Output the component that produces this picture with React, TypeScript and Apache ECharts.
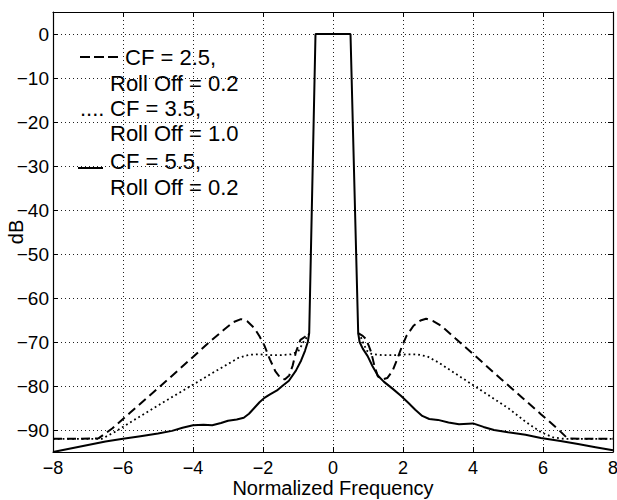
import React, { useEffect, useRef } from "react";
import * as echarts from "echarts";

// CF = 2.5, Roll Off = 0.2 (dashed)
const dashedLeft: number[][] = [
  [-8, -92], [-7.2, -92], [-6.7, -91.9], [-6.3, -89.6], [-5.8, -86.1], [-5.3, -82.6],
  [-4.7, -78.4], [-4.0, -73.4], [-3.5, -69.8], [-3.1, -67.1], [-2.85, -65.5], [-2.63, -64.8],
  [-2.45, -65.3], [-2.25, -66.8], [-2.1, -68.7], [-1.96, -70.8], [-1.8, -74.0], [-1.65, -76.6],
  [-1.5, -78.2], [-1.38, -78.5], [-1.25, -77.6], [-1.15, -75.3], [-1.06, -72.3], [-0.93, -69.5],
  [-0.8, -68.8], [-0.68, -68],
];
const dashedRight: number[][] = [
  [0.72, -68], [0.85, -68.6], [0.94, -69.3], [1.02, -70.8], [1.09, -72.3], [1.18, -75.3],
  [1.28, -77.8], [1.42, -78.5], [1.55, -78.2], [1.7, -76.6], [1.85, -73.6], [1.96, -71.2],
  [2.1, -68.6], [2.3, -66.3], [2.5, -65.1], [2.66, -64.7], [2.85, -65.2], [3.09, -66.3],
  [3.5, -69.2], [4.04, -73.0], [4.8, -78.4], [5.4, -82.6], [5.94, -86.4], [6.4, -89.6],
  [6.7, -91.9], [7.2, -92], [8, -92],
];

// CF = 3.5, Roll Off = 1.0 (dotted)
const dottedLeft: number[][] = [
  [-8, -92], [-6.6, -92], [-6.2, -90.3], [-5.7, -87.8], [-5.2, -85.4], [-4.7, -83],
  [-4.3, -81.1], [-4, -79.7], [-3.5, -77.3], [-3.0, -75], [-2.7, -73.6], [-2.4, -72.9],
  [-2.1, -72.8], [-1.8, -73], [-1.5, -73], [-1.2, -72.8], [-1.0, -72.2], [-0.9, -70.8],
  [-0.82, -69.6], [-0.75, -69], [-0.68, -68],
];
const dottedRight: number[][] = [
  [0.72, -68], [0.8, -69], [0.88, -70.5], [0.97, -72], [1.1, -72.7], [1.4, -73],
  [1.8, -73], [2.1, -72.8], [2.4, -72.8], [2.7, -73.3], [3.0, -74.6], [3.5, -77.2],
  [4.0, -79.8], [4.5, -82.4], [5.0, -85], [5.5, -88.1], [5.94, -90.5], [6.3, -91.7],
  [6.6, -92], [8, -92],
];

// CF = 5.5, Roll Off = 0.2 (solid)
const solid: number[][] = [
  [-8, -95], [-7.5, -94.2], [-7, -93.4], [-6.5, -92.6], [-6, -92], [-5.5, -91.4],
  [-5, -90.8], [-4.6, -90.2], [-4.3, -89.5], [-4, -88.9], [-3.7, -88.8], [-3.45, -88.9],
  [-3.2, -88.4], [-3.0, -87.9], [-2.75, -87.6], [-2.55, -87.2], [-2.4, -86.3], [-2.25, -85],
  [-2.1, -83.7], [-1.96, -82.7], [-1.8, -81.9], [-1.6, -81], [-1.45, -80], [-1.26, -78.8],
  [-1.06, -76.5], [-0.91, -74.2], [-0.8, -72], [-0.72, -70], [-0.68, -68], [-0.5, 0],
  [0.5, 0], [0.72, -68], [0.76, -70], [0.85, -71.5], [0.99, -73.2], [1.13, -75.5],
  [1.28, -77.6], [1.45, -79], [1.7, -80.6], [1.94, -82.2], [2.15, -83.8], [2.35, -85.4],
  [2.55, -86.8], [2.75, -87.5], [3.0, -87.7], [3.3, -88.3], [3.6, -88.7], [4.0, -88.5],
  [4.3, -89.3], [4.6, -90], [5.0, -90.5], [5.5, -91.1], [5.94, -91.8], [6.5, -92.5],
  [7, -93.2], [7.5, -93.9], [8, -94.6],
];

const legendLines = [
  ["CF = 2.5,", "Roll Off = 0.2"],
  ["CF = 3.5,", "Roll Off = 1.0"],
  ["CF = 5.5,", "Roll Off = 0.2"],
];

const FONT = "'Liberation Sans', Arial, Helvetica, sans-serif";
const fmt = (v: number) => (v < 0 ? "\u2212" + Math.abs(v) : String(v));

export default function App() {
  const ref = useRef<HTMLDivElement>(null);
  useEffect(() => {
    const chart = echarts.init(ref.current!, null, { renderer: "svg" });
    const axisLine = { show: true, onZero: false, lineStyle: { color: "#000", width: 1.2 } };
    const axisTick = { show: true, inside: true, length: 5, lineStyle: { color: "#000", width: 1 } };
    const splitLine = { show: true, lineStyle: { color: "#222", width: 1, type: [1, 3] as any } };
    const lbl = { color: "#000", fontSize: 18, fontFamily: FONT, lineHeight: 18 };
    const dashStyle = { color: "#000", width: 2, type: [9, 5] as any };
    const dotStyle = { color: "#000", width: 1.8, type: [1.8, 3] as any };
    const mk = (name: string, data: number[][], ls: any, z: number) => ({
      type: "line", name, data, showSymbol: false, symbol: "none", lineStyle: ls, z,
      xAxisIndex: 0, yAxisIndex: 0, silent: true,
    });
    const graphic: any[] = [
      { type: "line", shape: { x1: 80, y1: 57, x2: 120, y2: 57 }, style: { stroke: "#000", lineWidth: 2, lineDash: [10, 4] } },
      { type: "text", x: 80, y: 108, style: { text: "....", fontSize: 22, fontFamily: FONT, fill: "#000", verticalAlign: "middle" } },
      { type: "line", shape: { x1: 78, y1: 168, x2: 103, y2: 168 }, style: { stroke: "#000", lineWidth: 2 } },
    ];
    const rowY = [[57, 83], [108, 133], [161, 187]];
    const cfX = [125, 110, 110];
    legendLines.forEach((pair, i) => {
      graphic.push({ type: "text", x: cfX[i], y: rowY[i][0], style: { text: pair[0], fontSize: 22, fontFamily: FONT, fill: "#000", verticalAlign: "middle" } });
      graphic.push({ type: "text", x: 110, y: rowY[i][1], style: { text: pair[1], fontSize: 22, fontFamily: FONT, fill: "#000", verticalAlign: "middle" } });
    });
    chart.setOption({
      animation: false,
      backgroundColor: "#fff",
      grid: { left: 53, right: 4, top: 12, bottom: 48, containLabel: false, outerBoundsMode: "none" },
      xAxis: [
        {
          type: "value", min: -8, max: 8, interval: 2, position: "bottom",
          axisLine, axisTick, splitLine,
          axisLabel: { ...lbl, margin: 7, formatter: fmt },
          name: "Normalized Frequency", nameLocation: "middle", nameGap: 26, nameMoveOverlap: false,
          nameTextStyle: { color: "#000", fontSize: 20, fontFamily: FONT, lineHeight: 20 },
        },
        {
          type: "value", min: -8, max: 8, interval: 2, position: "top",
          axisLine, axisTick, splitLine: { show: false }, axisLabel: { show: false },
        },
      ],
      yAxis: [
        {
          type: "value", min: -95, max: 5, splitNumber: 10, position: "left",
          axisLine, axisTick, splitLine,
          axisLabel: { ...lbl, fontSize: 19, margin: 4, formatter: (v: number) => (v === -95 || v === 5 ? "" : fmt(v)) },
          name: "dB", nameLocation: "middle", nameGap: 27, nameMoveOverlap: false,
          nameTextStyle: { color: "#000", fontSize: 20, fontFamily: FONT },
        },
        {
          type: "value", min: -95, max: 5, splitNumber: 10, position: "right",
          axisLine, axisTick, splitLine: { show: false }, axisLabel: { show: false },
        },
      ],
      series: [
        mk("CF = 2.5, Roll Off = 0.2", dashedLeft, dashStyle, 2),
        mk("CF = 2.5, Roll Off = 0.2 ", dashedRight, dashStyle, 2),
        mk("CF = 3.5, Roll Off = 1.0", dottedLeft, dotStyle, 2),
        mk("CF = 3.5, Roll Off = 1.0 ", dottedRight, dotStyle, 2),
        mk("CF = 5.5, Roll Off = 0.2", solid, { color: "#000", width: 2 }, 3),
      ],
      graphic,
    });
    return () => chart.dispose();
  }, []);
  return (
    <div
      ref={ref}
      style={{ position: "fixed", left: 0, top: 0, width: 617, height: 500, background: "#fff" }}
    />
  );
}
